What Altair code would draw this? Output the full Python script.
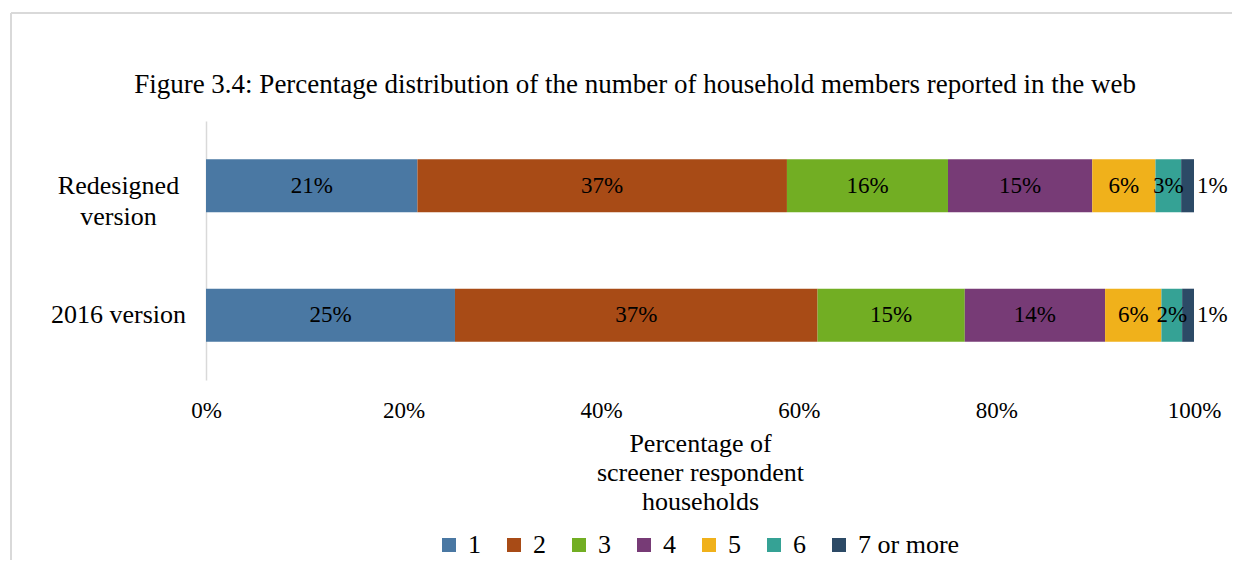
import altair as alt
import pandas as pd

versions = ["Redesigned version", "2016 version"]
categories = ["1", "2", "3", "4", "5", "6", "7 or more"]
redesigned = [21.4, 37.4, 16.3, 14.6, 6.4, 2.6, 1.3]
v2016 = [25.2, 36.7, 14.9, 14.2, 5.7, 2.1, 1.2]
colors = ["#4a78a3", "#a84b16", "#72ae23", "#773b76", "#f0b11b", "#35a295", "#2c4a66"]
title_text = "Figure 3.4: Percentage distribution of the number of household members reported in the web"

rows = []
for v, vals in zip(versions, [redesigned, v2016]):
    for i, (c, p) in enumerate(zip(categories, vals)):
        rows.append({"version": v, "cat": c, "order": i, "pct": p})
df = pd.DataFrame(rows)

FONT = "'Liberation Serif', 'Times New Roman', serif"

base = alt.Chart(df).transform_window(
    cum="sum(pct)", groupby=["version"], sort=[alt.SortField("order")]
).transform_calculate(
    start="datum.cum - datum.pct",
    mid="datum.cum - datum.pct/2",
    lab="round(datum.pct) + '%'",
)

yenc = alt.Y(
    "version:N",
    sort=versions,
    scale=alt.Scale(paddingInner=0.59, paddingOuter=0.295),
    axis=alt.Axis(
        title=None,
        ticks=False,
        domainColor="#d9d9d9",
        domainWidth=1.5,
        labelFont=FONT,
        labelFontSize=26,
        labelColor="#000000",
        labelAlign="center",
        labelPadding=88,
        labelLineHeight=31,
        labelExpr="datum.label == 'Redesigned version' ? ['Redesigned', 'version'] : datum.label",
    ),
)

bars = base.mark_bar().encode(
    x=alt.X(
        "start:Q",
        scale=alt.Scale(domain=[0, 100], nice=False),
        axis=alt.Axis(
            values=[0, 20, 40, 60, 80, 100],
            labelExpr="datum.value + '%'",
            labelFlush=False,
            labelOverlap=False,
            grid=False,
            ticks=False,
            domain=False,
            labelFont=FONT,
            labelFontSize=23,
            labelColor="#000000",
            labelPadding=19,
            title=["Percentage of", "screener respondent", "households"],
            titleFont=FONT,
            titleFontSize=26,
            titleFontWeight="normal",
            titleColor="#000000",
            titleLineHeight=29,
            titlePadding=8,
        ),
    ),
    x2="cum:Q",
    y=yenc,
    color=alt.Color(
        "cat:N",
        sort=categories,
        scale=alt.Scale(domain=categories, range=colors),
        legend=alt.Legend(
            title=None,
            orient="none",
            direction="horizontal",
            legendX=230,
            legendY=411,
            symbolType="square",
            symbolSize=196,
            symbolStrokeWidth=0,
            labelFont=FONT,
            labelFontSize=26,
            labelColor="#000000",
            labelOffset=6,
            columnPadding=20,
        ),
    ),
    order=alt.Order("order:Q"),
)

inside = base.transform_filter("datum.order < 6").mark_text(
    font=FONT, fontSize=23, color="#000000"
).encode(x="mid:Q", y=alt.Y("version:N", sort=versions), text="lab:N")

outside = base.transform_filter("datum.order == 6").mark_text(
    font=FONT, fontSize=23, color="#000000", align="left", dx=3
).encode(x="cum:Q", y=alt.Y("version:N", sort=versions), text="lab:N")

one = alt.Data(values=[{"k": 1}])
title_mark = alt.Chart(one).mark_text(
    font=FONT, fontSize=27, color="#000000", align="center", baseline="middle"
).encode(x=alt.value(429), y=alt.value(-36), text=alt.value(title_text))

frame_top = alt.Chart(one).mark_rule(color="#d9d9d9", strokeWidth=2).encode(
    x=alt.value(-195), x2=alt.value(1040), y=alt.value(-108)
)
frame_left = alt.Chart(one).mark_rule(color="#d9d9d9", strokeWidth=2).encode(
    x=alt.value(-195), y=alt.value(-108), y2=alt.value(460)
)

chart = alt.layer(bars, inside, outside, title_mark, frame_top, frame_left).properties(
    width=988,
    height=259,
    padding={"left": 198, "top": 113, "right": 38, "bottom": 180},
    autosize=alt.AutoSizeParams(type="none"),
).configure_view(stroke=None)

chart.save("out.html", embed_options={"renderer": "svg", "actions": False})
